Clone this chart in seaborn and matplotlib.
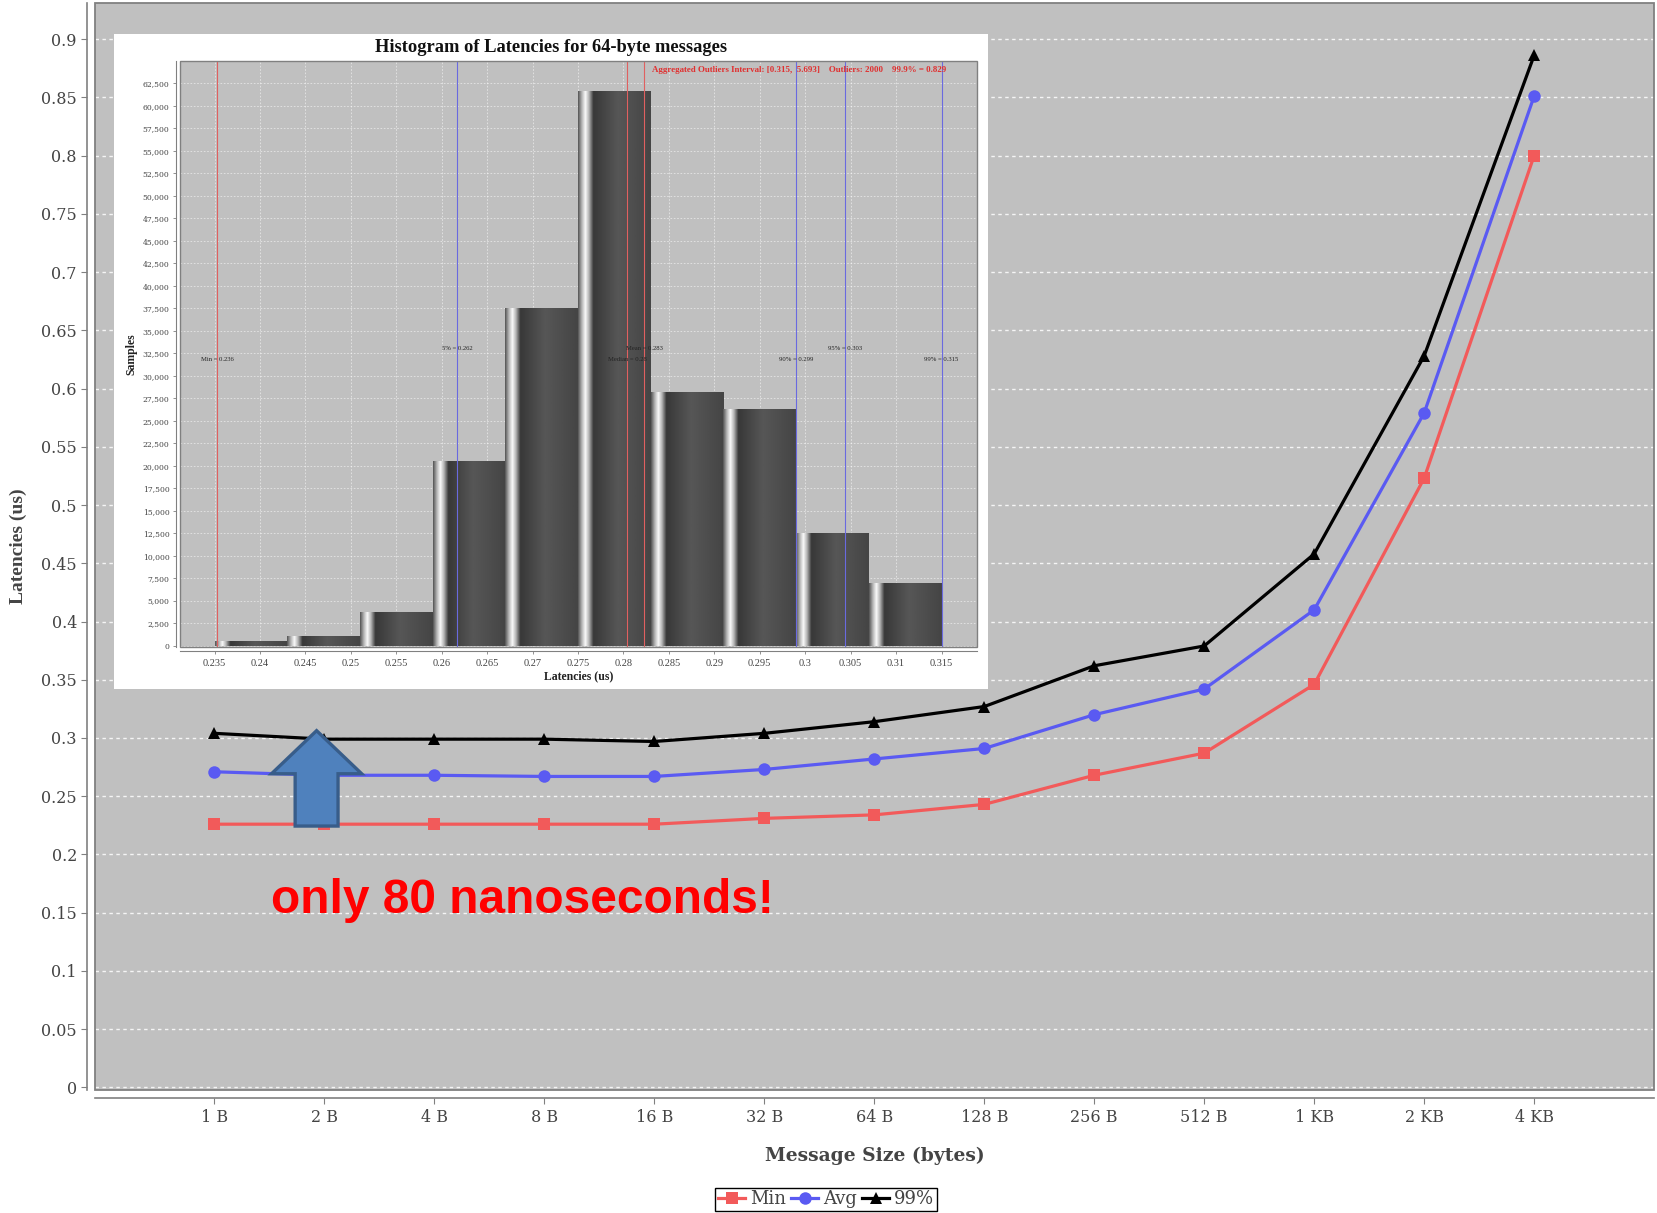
import numpy as np
import pandas as pd
import matplotlib
matplotlib.use("Agg")
import matplotlib.pyplot as plt
import seaborn as sns
from matplotlib.patches import Rectangle, FancyArrow
import matplotlib.ticker as mticker

# ---------------- data ----------------
sizes = ['1 B', '2 B', '4 B', '8 B', '16 B', '32 B', '64 B', '128 B',
         '256 B', '512 B', '1 KB', '2 KB', '4 KB']
lat_min = [0.226, 0.226, 0.226, 0.226, 0.226, 0.231, 0.234, 0.243,
           0.268, 0.287, 0.346, 0.523, 0.800]
lat_avg = [0.271, 0.268, 0.268, 0.267, 0.267, 0.273, 0.282, 0.291,
           0.320, 0.342, 0.410, 0.579, 0.851]
lat_p99 = [0.304, 0.299, 0.299, 0.299, 0.297, 0.304, 0.314, 0.327,
           0.362, 0.379, 0.458, 0.628, 0.886]
series_names = ['Min', 'Avg', '99%']

hist_edges = [0.235, 0.243, 0.251, 0.259, 0.267, 0.275, 0.283, 0.291,
              0.299, 0.307, 0.315]
hist_counts = [450, 1070, 3770, 20560, 37480, 61690, 28200, 26320, 12455, 6930]

stat_labels = ['Min = 0.236', '5% = 0.262', 'Median = 0.28', 'Mean = 0.283',
               '90% = 0.299', '95% = 0.303', '99% = 0.315']
stat_values = [0.2353, 0.2617, 0.2804, 0.2823, 0.2990, 0.3044, 0.3150]
stat_colors = ['#e06060', '#6a6ae0', '#e06060', '#e06060', '#6a6ae0', '#6a6ae0', '#6a6ae0']
stat_label_y = [31830, 33010, 31830, 33010, 31830, 33010, 31830]
outlier_text = 'Aggregated Outliers Interval: [0.315,  5.693]    Outliers: 2000    99.9% = 0.829'

callout_text = 'only 80 nanoseconds!'

# ---------------- figure ----------------
W, H = 1657, 1213
fig = plt.figure(figsize=(W / 100, H / 100), dpi=100)
fig.patch.set_facecolor('white')
plt.rcParams['font.family'] = ['DejaVu Serif']

GRAY_BG = '#c0c0c0'
TICK_COL = '#444444'

def fbox(x0, y0, x1, y1):
    return [x0 / W, 1 - y1 / H, (x1 - x0) / W, (y1 - y0) / H]

ax = fig.add_axes(fbox(95, 3, 1654, 1090))
ax.set_facecolor(GRAY_BG)

xpos = np.arange(len(sizes))
df = pd.DataFrame({'pos': np.tile(xpos, 3),
                   'lat': lat_min + lat_avg + lat_p99,
                   'series': np.repeat(series_names, len(sizes))})

palette = {'Min': '#f25a5a', 'Avg': '#5a5af2', '99%': '#000000'}
markers = {'Min': 's', 'Avg': 'o', '99%': '^'}
sns.lineplot(data=df, x='pos', y='lat', hue='series', style='series',
             palette=palette, markers=markers, dashes=False,
             linewidth=2.3, markersize=9, markeredgewidth=0,
             ax=ax, legend=True, zorder=3)
handles, labels = ax.get_legend_handles_labels()
ax.get_legend().remove()

ax.set_xlim(-1.086, 13.09)
ax.set_ylim(-0.0022, 0.931)
ax.set_xticks(xpos)
ax.set_xticklabels(sizes)
ax.set_yticks(np.arange(0, 0.91, 0.05))
ax.yaxis.set_major_formatter(mticker.FuncFormatter(lambda v, p: f'{v:.2f}'.rstrip('0').rstrip('.') if v else '0'))
ax.grid(axis='y', color='white', linestyle=(0, (2.5, 2.5)), linewidth=1.0, alpha=0.85)
ax.grid(axis='x', visible=False)
ax.set_axisbelow(True)
for s in ['top', 'right']:
    ax.spines[s].set_visible(False)
for s in ['left', 'bottom']:
    ax.spines[s].set_position(('outward', 6))
    ax.spines[s].set_color('#808080')
    ax.spines[s].set_linewidth(1.2)
ax.add_patch(Rectangle((0, 0), 1, 1, transform=ax.transAxes, fill=False,
                       edgecolor='#808080', linewidth=1.3, clip_on=False, zorder=5))
ax.tick_params(axis='both', colors='#808080', labelcolor=TICK_COL, labelsize=11.5, length=4)
ax.tick_params(axis='x', pad=4)
ax.tick_params(axis='y', pad=3)
ax.set_xlabel('Message Size (bytes)', fontsize=13.5, fontweight='bold', color='#444444', labelpad=14.5)
ax.set_ylabel('Latencies (us)', family='Liberation Serif', fontsize=14, fontweight='bold', color='#444444', labelpad=10)

# arrow and callout
arrow = FancyArrow(0.929, 0.2244, 0, 0.0819, width=0.39, head_width=0.82,
                   head_length=0.037, length_includes_head=True,
                   facecolor='#4f81bd', edgecolor='#385d8a', linewidth=2.4, zorder=6)
ax.add_patch(arrow)
ax.text(0.51, 0.15, callout_text, family='Liberation Sans', fontweight='bold',
        fontsize=34.5, color='#ff0000', ha='left', va='baseline', zorder=6)

fig.legend(handles, labels, loc='lower center', bbox_to_anchor=(0.4985, 0.0016), ncol=3,
           frameon=True, fancybox=False, edgecolor='black', framealpha=1,
           fontsize=13, handlelength=1.5, handletextpad=0.25, columnspacing=0.3,
           borderpad=0.15, borderaxespad=0, labelcolor='#444444')

# ---------------- inset ----------------
panel = fig.add_axes(fbox(114, 34, 988, 689))
panel.set_facecolor('white')
panel.set_xticks([])
panel.set_yticks([])
for s in panel.spines.values():
    s.set_visible(False)
panel.set_zorder(10)

iax = fig.add_axes(fbox(180, 61, 977, 647))
iax.set_zorder(11)
iax.set_facecolor(GRAY_BG)
centers = [(a + b) / 2 for a, b in zip(hist_edges[:-1], hist_edges[1:])]
sns.histplot(x=centers, weights=hist_counts, bins=hist_edges, ax=iax,
             color='#3a3a3a', edgecolor='none', alpha=1, zorder=2)

# gradient shading of bars
prof_x = [0.0, 0.05, 0.10, 0.15, 0.21, 0.55, 1.0]
prof_v = [0.33, 0.70, 0.98, 0.70, 0.22, 0.34, 0.27]
g = np.interp(np.linspace(0, 1, 200), prof_x, prof_v)[None, :]
for p in list(iax.patches):
    x0, y0 = p.get_x(), p.get_y()
    w, h = p.get_width(), p.get_height()
    iax.imshow(g, extent=[x0, x0 + w, y0, y0 + h], aspect='auto', cmap='gray',
               vmin=0, vmax=1, zorder=3, interpolation='bilinear')

iax.set_xlim(0.2312, 0.3189)
iax.set_ylim(-156, 65000)
iax.set_xticks(np.arange(0.235, 0.3151, 0.005))
iax.xaxis.set_major_formatter(mticker.FuncFormatter(lambda v, p: f'{v:.3f}'.rstrip('0')))
iax.set_yticks(np.arange(0, 62501, 2500))
iax.yaxis.set_major_formatter(mticker.FuncFormatter(lambda v, p: f'{int(round(v)):,}'))
iax.grid(True, color='white', linestyle=(0, (2, 2)), linewidth=0.6, alpha=0.6)
iax.set_axisbelow(True)
for s in ['top', 'right']:
    iax.spines[s].set_visible(False)
for s in ['left', 'bottom']:
    iax.spines[s].set_position(('outward', 3))
    iax.spines[s].set_color('#808080')
iax.add_patch(Rectangle((0, 0), 1, 1, transform=iax.transAxes, fill=False,
                        edgecolor='#808080', linewidth=1.0, clip_on=False, zorder=5))
iax.tick_params(axis='both', colors='#808080', labelcolor=TICK_COL, length=2.5, width=0.6)
iax.tick_params(axis='y', labelsize=5.5, pad=2)
iax.tick_params(axis='x', labelsize=7.5, pad=3)
for t in iax.get_xticklabels():
    t.set_family('Liberation Serif')
iax.set_xlabel('Latencies (us)', family='Liberation Serif', fontweight='bold', fontsize=8.5, color='#222222', labelpad=2)
iax.set_ylabel('Samples', family='Liberation Serif', fontweight='bold', fontsize=8.5, color='#222222', labelpad=4)

for v, lab, c, ly in zip(stat_values, stat_labels, stat_colors, stat_label_y):
    iax.axvline(v, color=c, linewidth=0.8, zorder=4)
    iax.text(v, ly, lab, fontsize=4.8, family='Liberation Serif', color='#222222',
             ha='center', va='center', zorder=6)
iax.text(0.3155, 64000, outlier_text, fontsize=6.4, family='Liberation Serif', fontweight='bold',
         color='#e03030', ha='right', va='center', zorder=6)

panel.text(0.5, 0.993, 'Histogram of Latencies for 64-byte messages', transform=panel.transAxes,
           family='Liberation Serif', fontweight='bold', fontsize=13.3, color='#111111',
           ha='center', va='top')

fig.savefig('out.png', dpi=100, facecolor='white')
